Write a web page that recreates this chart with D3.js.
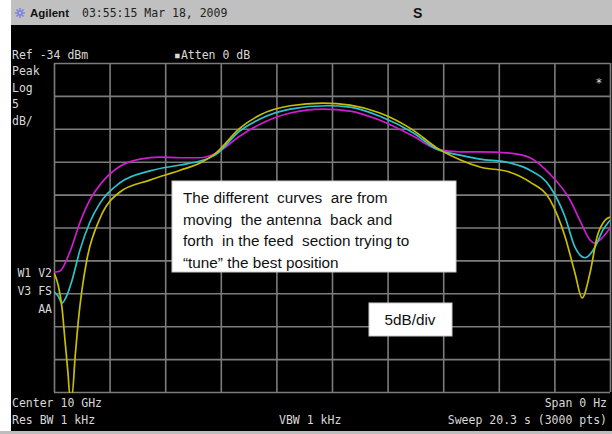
<!DOCTYPE html>
<html>
<head>
<meta charset="utf-8">
<script src="https://cdn.jsdelivr.net/npm/d3@7"></script>
<style>
  body { margin: 0; background: #fff; }
  svg { display: block; }
  .scr { font-family: "DejaVu Sans Mono", monospace; font-size: 11.5px; fill: #d8d8d8; }
  .note { font-family: "Liberation Sans", Arial, sans-serif; font-size: 15.3px; fill: #111; }
</style>
</head>
<body>
<div id="vis"></div>
<script>
// analyzer settings
var refLevel = -34;      // dBm, top of grid
var dbPerDiv = 5;
var sweepTime = 20.3;    // s, span 0 Hz

// traces: [time s, level dBm]
var magentaTrace = [
    [0, -65.8], [0.22, -65.6], [0.58, -62.7], [0.95, -58.2], [1.31, -54.8], [1.68, -52.5],
    [2.41, -49.7], [3.14, -48.6], [3.87, -48.3], [4.60, -48.4], [5.33, -48.4], [5.88, -47.8],
    [6.79, -45.1], [7.52, -43.3], [8.62, -41.6], [9.82, -41.0], [10.81, -41.3], [11.90, -42.7],
    [13.11, -45.1], [13.98, -47.1], [14.82, -47.5], [15.55, -47.5], [16.65, -47.7], [17.38, -48.4],
    [18.11, -50.9], [18.84, -54.8], [19.20, -57.9], [19.57, -60.9], [19.75, -61.4], [19.93, -60.9],
    [20.3, -59.1]
];
var cyanTrace = [
    [0, -68.8], [0.15, -69.4], [0.29, -70.5], [0.44, -69.6], [0.66, -67.0], [0.95, -62.4],
    [1.31, -58.2], [1.68, -55.3], [2.41, -52.2], [3.50, -50.4], [4.60, -49.5], [5.33, -48.9],
    [5.88, -48.0], [6.79, -44.3], [7.52, -42.5], [8.62, -41.0], [9.97, -40.5], [10.81, -40.7],
    [11.90, -42.1], [13.11, -44.6], [13.98, -47.1], [14.82, -48.0], [15.55, -48.6], [16.65, -49.2],
    [17.38, -50.3], [18.11, -52.8], [18.66, -57.4], [19.02, -62.0], [19.39, -63.6], [19.75, -62.0],
    [20.04, -59.4], [20.3, -57.9]
];
var yellowTrace = [
    [0, -65.9], [0.15, -67.7], [0.29, -71.1], [0.40, -76.1], [0.51, -81.1], [0.58, -84.5],
    [0.66, -84.5], [0.77, -78.7], [0.88, -73.5], [1.02, -68.5], [1.20, -63.9], [1.68, -57.6],
    [2.41, -53.6], [3.50, -51.8], [4.60, -50.3], [5.33, -49.2], [5.88, -47.8], [6.79, -43.9],
    [7.52, -41.9], [8.62, -40.5], [9.82, -40.1], [10.81, -40.4], [11.90, -41.6], [13.11, -44.2],
    [13.98, -46.9], [14.82, -48.7], [15.55, -49.8], [16.65, -50.6], [17.38, -52.1], [18.11, -54.8],
    [18.66, -60.4], [19.02, -65.9], [19.28, -69.7], [19.57, -65.9], [19.83, -60.4], [20.12, -57.9],
    [20.3, -57.4]
];
var traceColors = ['#d21cd2', '#2cc4cc', '#c8be00'];

var leftLabels = ['Peak', 'Log', '5', 'dB/'];
var traceLabels = ['W1  V2', 'V3  FS', 'AA'];
var noteLines = [
    'The different  curves  are from',
    'moving  the antenna  back and',
    'forth  in the feed  section trying to',
    '\u201Ctune\u201D the best position'
];

var width = 612, height = 434;
var grid = { left: 54, right: 610, top: 63, bottom: 392 };

var svg = d3.select('#vis').append('svg')
    .attr('width', width)
    .attr('height', height);

// screen background
svg.append('rect').attr('x', 11).attr('y', 0).attr('width', width - 11).attr('height', 431).attr('fill', '#000');
svg.append('rect').attr('x', 11).attr('y', 0).attr('width', width - 11).attr('height', 25).attr('fill', '#c0c0c0');
svg.append('rect').attr('x', 0).attr('y', 431).attr('width', width).attr('height', 3).attr('fill', '#bdbdbd');

// header bar
var star = svg.append('g').attr('transform', 'translate(20,13)');
[0, 45, 90, 135].forEach(function (a) {
    star.append('line')
        .attr('x1', -5).attr('x2', 5).attr('y1', 0).attr('y2', 0)
        .attr('transform', 'rotate(' + a + ')')
        .attr('stroke', '#7a7ae8').attr('stroke-width', 1.4);
});
star.append('circle').attr('r', 1.8).attr('fill', '#c0c0c0').attr('stroke', '#7a7ae8');
svg.append('text').attr('x', 30).attr('y', 17)
    .style('font-family', '"Liberation Sans", Arial, sans-serif').style('font-size', '11.5px')
    .style('font-weight', 'bold').attr('fill', '#111').text('Agilent');
svg.append('text').attr('class', 'scr').attr('x', 82).attr('y', 17).style('fill', '#222')
    .text('03:55:15  Mar 18, 2009');
svg.append('text').attr('x', 413).attr('y', 18)
    .style('font-family', '"Liberation Sans", Arial, sans-serif').style('font-size', '14px')
    .style('font-weight', 'bold').attr('fill', '#111').text('S');

// scales
var x = d3.scaleLinear().domain([0, sweepTime]).range([grid.left, grid.right]);
var y = d3.scaleLinear().domain([refLevel - 10 * dbPerDiv, refLevel]).range([grid.bottom, grid.top]);

// graticule via axes
var xAxis = d3.axisBottom(x)
    .tickValues(d3.range(0, 11).map(function (i) { return i * sweepTime / 10; }))
    .tickSize(-(grid.bottom - grid.top)).tickFormat('');
var yAxis = d3.axisLeft(y)
    .tickValues(d3.range(0, 11).map(function (i) { return refLevel - i * dbPerDiv; }))
    .tickSize(-(grid.right - grid.left)).tickFormat('');

svg.append('g').attr('class', 'grid')
    .attr('transform', 'translate(0,' + grid.bottom + ')').call(xAxis);
svg.append('g').attr('class', 'grid')
    .attr('transform', 'translate(' + grid.left + ',0)').call(yAxis);
svg.selectAll('.grid .domain').remove();
svg.selectAll('.grid line').attr('stroke', '#7c7c7c').attr('stroke-width', 1.6);

// traces
svg.append('clipPath').attr('id', 'clip').append('rect')
    .attr('x', grid.left).attr('y', grid.top)
    .attr('width', grid.right - grid.left).attr('height', grid.bottom - grid.top + 1);

var line = d3.line()
    .x(function (d) { return x(d[0]); })
    .y(function (d) { return y(d[1]); })
    .curve(d3.curveMonotoneX);

[magentaTrace, cyanTrace, yellowTrace].forEach(function (tr, i) {
    svg.append('path')
        .datum(tr)
        .attr('clip-path', 'url(#clip)')
        .attr('fill', 'none')
        .attr('stroke', traceColors[i])
        .attr('stroke-width', 1.7)
        .attr('d', line);
});

// screen annotations
svg.append('text').attr('class', 'scr').attr('x', 12).attr('y', 59).text('Ref -34 dBm');
svg.append('text').attr('class', 'scr').attr('x', 174).attr('y', 59).text('\u25AAAtten 0 dB');
svg.selectAll('.lbl').data(leftLabels).enter().append('text')
    .attr('class', 'scr lbl').attr('x', 12)
    .attr('y', function (d, i) { return 75 + i * 16.6; })
    .text(function (d) { return d; });
svg.selectAll('.tlbl').data(traceLabels).enter().append('text')
    .attr('class', 'scr tlbl').attr('x', 52).attr('text-anchor', 'end')
    .attr('y', function (d, i) { return 277 + i * 18; })
    .text(function (d) { return d; });
svg.append('text').attr('class', 'scr').attr('x', 599).attr('y', 87)
    .attr('text-anchor', 'middle').text('*');

svg.append('text').attr('class', 'scr').attr('x', 12).attr('y', 407).text('Center 10 GHz');
svg.append('text').attr('class', 'scr').attr('x', 12).attr('y', 424).text('Res BW 1 kHz');
svg.append('text').attr('class', 'scr').attr('x', 279).attr('y', 424).text('VBW 1 kHz');
svg.append('text').attr('class', 'scr').attr('x', 607).attr('y', 407).attr('text-anchor', 'end').text('Span 0 Hz');
svg.append('text').attr('class', 'scr').attr('x', 607).attr('y', 424).attr('text-anchor', 'end').text('Sweep 20.3 s (3000 pts)');

// callout boxes
svg.append('rect').attr('x', 172).attr('y', 181).attr('width', 284).attr('height', 91)
    .attr('fill', '#fff').attr('stroke', '#ccc');
svg.selectAll('.note').data(noteLines).enter().append('text')
    .attr('class', 'note').attr('x', 183)
    .attr('y', function (d, i) { return 203 + i * 21.5; })
    .style('white-space', 'pre')
    .text(function (d) { return d; });

svg.append('rect').attr('x', 369).attr('y', 303).attr('width', 83).attr('height', 33)
    .attr('fill', '#fff').attr('stroke', '#ccc');
svg.append('text').attr('class', 'note').attr('x', 410).attr('y', 325)
    .attr('text-anchor', 'middle').text('5dB/div');
</script>
</body>
</html>
